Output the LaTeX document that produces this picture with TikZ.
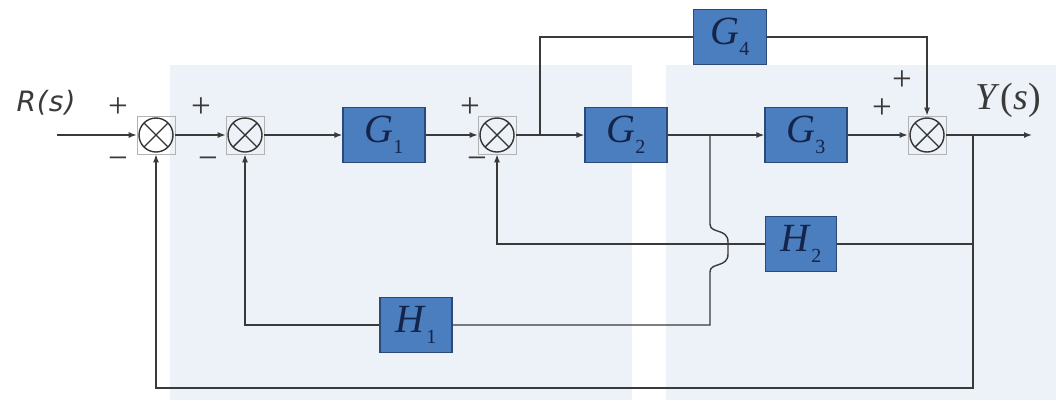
\documentclass[tikz,border=0pt]{standalone}
\usepackage{fontspec}
\setmainfont{Liberation Serif}
\newfontfamily\rsfont{DejaVu Sans}
\usetikzlibrary{arrows.meta}
\definecolor{blkfill}{HTML}{4A7EBF}
\definecolor{blkedge}{HTML}{2B4A78}
\definecolor{blktext}{HTML}{14244A}
\definecolor{panel}{HTML}{EDF1F8}
\definecolor{wire}{HTML}{3A3A3A}
\newcommand{\blab}[2]{\textit{#1}\raisebox{-11pt}{\fontsize{20}{20}\selectfont #2}}
\tikzset{
  blk/.style={draw=blkedge,line width=1.2pt,fill=blkfill,text=blktext,minimum width=82pt,minimum height=55pt,inner sep=0pt,font=\fontsize{40}{40}\selectfont},
  sumj/.style={draw=gray!60,line width=0.6pt,minimum size=38pt,inner sep=0pt,
    path picture={\draw[gray!40!black,line width=1.4pt] (path picture bounding box.center) circle[radius=17pt]
      +(45:17pt) -- +(225:17pt) +(135:17pt) -- +(-45:17pt);}},
  sgn/.style={text=gray!45!black,font=\fontsize{35}{35}\selectfont,inner sep=0pt}
}
\begin{document}
\begin{tikzpicture}[x=1pt,y=-1pt,>={Latex[length=8pt,width=6pt]},every path/.style={wire,line width=1.4pt}]
  \useasboundingbox (0,0) rectangle (1056,400);
  \fill[panel] (170,65) rectangle (632,400);
  \fill[panel] (666,65) rectangle (1056,400);
  % forward path
  \node[sumj] (s1) at (156,135) {};
  \node[sumj] (s2) at (245,135) {};
  \node[blk] (g1) at (384,135) {\blab{G}{1}};
  \node[sumj] (s3) at (497,135) {};
  \node[blk] (g2) at (626,135) {\blab{G}{2}};
  \node[blk] (g3) at (806,135) {\blab{G}{3}};
  \node[sumj] (s4) at (927,135) {};
  \node[blk,minimum width=73pt] (g4) at (730,37) {\blab{G}{4}};
  % feedback blocks
  \node[blk,minimum width=71pt] (h2) at (801,244) {\blab{H}{2}};
  \node[blk,minimum width=72pt] (h1) at (416,325) {\blab{H}{1}};
  % branch points
  \coordinate (rin) at (57,135);
  \coordinate (yout) at (1032,135);
  \coordinate (b1) at (540,135);
  \coordinate (b2) at (710,135);
  \coordinate (b3) at (973,135);
  \coordinate (j1) at (710,224);
  \coordinate (j2) at (710,272);
  \coordinate (c2) at (710,325);
  \coordinate (c3) at (973,388);
  \draw[->] (rin) -- (s1);
  \draw[->] (s1) -- (s2);
  \draw[->] (s2) -- (g1);
  \draw[->] (g1) -- (s3);
  \draw[->] (s3) -- (g2);
  \draw[->] (g2) -- (g3);
  \draw[->] (g3) -- (s4);
  \draw[->] (s4) -- (yout);
  \draw (b1) |- (g4);
  \draw[->] (g4) -| (s4);
  \draw (b3) |- (h2);
  \draw[->] (h2) -| (s3);
  \draw (b2) -- (j1) .. controls (710,234) and (728,228) .. (728,242) -- (728,254) .. controls (728,268) and (710,262) .. (j2) -- (c2) -- (h1);
  \draw[->] (h1) -| (s2);
  \draw[->] (b3) -- (c3) -| (s1);
  % labels
  \node[text=wire,font=\rsfont\itshape\fontsize{28}{28}\selectfont] (rlab) at (46,103) {R\kern1pt(\kern1pt s\kern1pt)};
  \node[text=wire,font=\fontsize{38}{38}\selectfont] (ylab) at (1008,100) {\textit{Y}\kern1pt(\textit{s})};
  \node[sgn] (p1) at (118,108) {+};
  \node[sgn] (m1) at (118,163) {−};
  \node[sgn] (p2) at (201,108) {+};
  \node[sgn] (m2) at (208,163) {−};
  \node[sgn] (p3) at (470,108) {+};
  \node[sgn] (m3) at (477,163) {−};
  \node[sgn] (p4) at (902,81) {+};
  \node[sgn] (p5) at (882,109) {+};
\end{tikzpicture}
\end{document}
